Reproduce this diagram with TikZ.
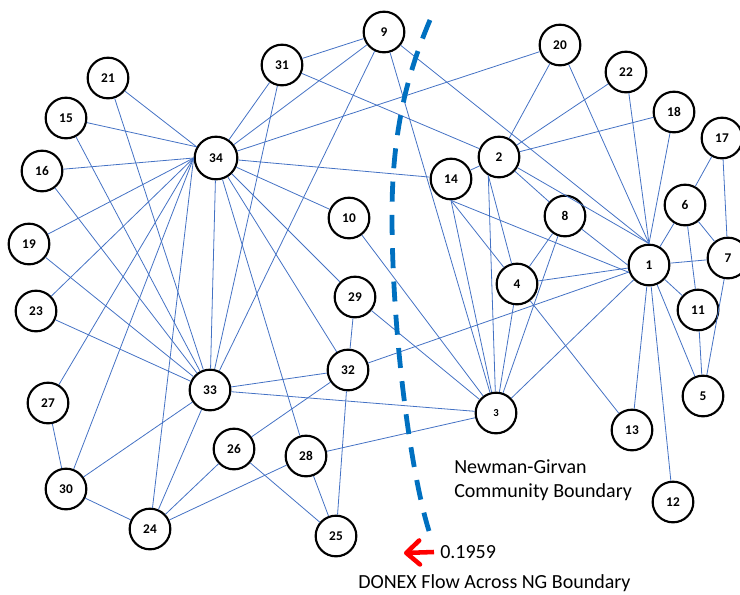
\documentclass[tikz,border=0pt]{standalone}
\usepackage{fontspec}
\setmainfont{Carlito}
\usepackage{tikz}
\usetikzlibrary{arrows.meta}

\definecolor{edgeblue}{RGB}{68,114,196}
\definecolor{ngblue}{RGB}{0,112,192}
\definecolor{flowred}{RGB}{255,0,0}

\tikzset{
  club/.style={circle, draw=black, line width=1.6pt, fill=white, minimum size=30.5pt, inner sep=0pt, font=\fontsize{10}{12}\selectfont\bfseries},
  tie/.style={draw=edgeblue, line width=0.6pt},
  lbl/.style={anchor=west, inner sep=0.75pt, font=\fontsize{15}{18}\selectfont}
}

\begin{document}
\begin{tikzpicture}[x=0.75pt,y=0.75pt,yscale=-1,xscale=1]
\useasboundingbox (0,0) rectangle (740,594);

%Members
\node [club] (n1) at (649,265) {1};
\node [club] (n2) at (499,157) {2};
\node [club, font=\fontsize{8}{10}\selectfont\bfseries] (n3) at (496,413) {3};
\node [club] (n4) at (517,284) {4};
\node [club] (n5) at (703,396) {5};
\node [club] (n6) at (685,205) {6};
\node [club] (n7) at (728,258) {7};
\node [club] (n8) at (565,216) {8};
\node [club] (n9) at (384,32) {9};
\node [club] (n10) at (349,218) {10};
\node [club] (n11) at (698,310) {11};
\node [club] (n12) at (673,502) {12};
\node [club] (n13) at (632,430) {13};
\node [club] (n14) at (451,179) {14};
\node [club] (n15) at (66,118) {15};
\node [club] (n16) at (42,171) {16};
\node [club] (n17) at (722,138) {17};
\node [club] (n18) at (674,112) {18};
\node [club] (n19) at (29,244) {19};
\node [club] (n20) at (560,45) {20};
\node [club] (n21) at (108,78) {21};
\node [club] (n22) at (626,72) {22};
\node [club] (n23) at (36,311) {23};
\node [club] (n24) at (150,529) {24};
\node [club] (n25) at (336,536) {25};
\node [club] (n26) at (234,449) {26};
\node [club] (n27) at (48,403) {27};
\node [club] (n28) at (306,456) {28};
\node [club] (n29) at (355,297) {29};
\node [club] (n30) at (66,489) {30};
\node [club] (n31) at (282,65) {31};
\node [club] (n32) at (348,370) {32};
\node [club] (n33) at (210,390) {33};
\node [club, minimum size=32pt] (n34) at (216,158) {34};

%Straight Lines (ties of member 1)
\draw [tie] (n2) -- (n1.north);  \draw [tie] (n1) -- (n3);  \draw [tie] (n1) -- (n4);
\draw [tie] (n1) -- (n5);  \draw [tie] (n1) -- (n6);  \draw [tie] (n1) -- (n7);
\draw [tie] (n8) -- (n1.west);  \draw [tie] (n9) -- (n1.north);  \draw [tie] (n1) -- (n11);
\draw [tie] (n1) -- (n12); \draw [tie] (n1) -- (n13); \draw [tie] (n14.south) -- (n1.200);
\draw [tie] (n18) -- (n1.north); \draw [tie] (n20) -- (n1.north); \draw [tie] (n22) -- (n1.north);
\draw [tie] (n1) -- (n32);
%Straight Lines (ties of member 2)
\draw [tie] (n2.240) -- (n3);  \draw [tie] (n2.240) -- (n4);  \draw [tie] (n2) -- (n8);
\draw [tie] (n2) -- (n14); \draw [tie] (n2) -- (n18); \draw [tie] (n2) -- (n20);
\draw [tie] (n2) -- (n22); \draw [tie] (n2) -- (n31);
%Straight Lines (ties of member 3)
\draw [tie] (n3) -- (n4);  \draw [tie] (n3) -- (n8);  \draw [tie] (n3) -- (n9);
\draw [tie] (n3) -- (n10); \draw [tie] (n3) -- (n14.south); \draw [tie] (n3) -- (n28);
\draw [tie] (n3) -- (n29); \draw [tie] (n3) -- (n33);
%Straight Lines (ties of members 4 - 9)
\draw [tie] (n4) -- (n8);  \draw [tie] (n4) -- (n13); \draw [tie] (n4) -- (n14.south);
\draw [tie] (n5) -- (n7);  \draw [tie] (n5) -- (n11);
\draw [tie] (n6) -- (n7);  \draw [tie] (n6) -- (n11); \draw [tie] (n6) -- (n17);
\draw [tie] (n7) -- (n17);
\draw [tie] (n9) -- (n31); \draw [tie] (n9) -- (n33); \draw [tie] (n9) -- (n34);
%Straight Lines (ties of members 10 - 23)
\draw [tie] (n10) -- (n34); \draw [tie] (n14) -- (n34);
\draw [tie] (n15) -- (n33); \draw [tie] (n15) -- (n34.150);
\draw [tie] (n16) -- (n33); \draw [tie] (n16) -- (n34.west);
\draw [tie] (n19) -- (n33); \draw [tie] (n19) -- (n34.west);
\draw [tie] (n20) -- (n34);
\draw [tie] (n21) -- (n33); \draw [tie] (n21) -- (n34.150);
\draw [tie] (n23) -- (n33); \draw [tie] (n23) -- (n34.west);
%Straight Lines (ties of members 24 - 33)
\draw [tie] (n24) -- (n26); \draw [tie] (n24) -- (n28); \draw [tie] (n24) -- (n30);
\draw [tie] (n24) -- (n33); \draw [tie] (n24) -- (n34.west);
\draw [tie] (n25) -- (n26); \draw [tie] (n25) -- (n28); \draw [tie] (n25) -- (n32);
\draw [tie] (n26) -- (n32);
\draw [tie] (n27) -- (n30); \draw [tie] (n27) -- (n34.west);
\draw [tie] (n28) -- (n34);
\draw [tie] (n29) -- (n32); \draw [tie] (n29) -- (n34);
\draw [tie] (n30) -- (n33); \draw [tie] (n30) -- (n34.west);
\draw [tie] (n31) -- (n33); \draw [tie] (n31) -- (n34);
\draw [tie] (n32) -- (n33); \draw [tie] (n32) -- (n34);
\draw [tie] (n33) -- (n34);

%Curve Lines (community boundary)
\coordinate (ngtop) at (430,20);
\coordinate (ngend) at (429,531);
\draw [ngblue, line width=3.6pt, dash pattern=on 15pt off 10pt] (ngtop) .. controls (408,72) and (392,130) .. (392,215) .. controls (392,330) and (410,470) .. (ngend);

% Text Node
\node [lbl] (ngtext) at (453,467) {Newman-Girvan};
\node [lbl] (ngtext2) at (453,492) {Community Boundary};
% Text Node
\node [lbl] (flowval) at (439,552) {0.1959};
\node [lbl] (flowtext) at (357,583) {DONEX Flow Across NG Boundary};
%Straight Lines (flow arrow)
\coordinate (flowtip) at (404,553);
\draw [flowred, line width=3.4pt, -{Straight Barb[length=10pt,width=18pt,round]}] (flowval.west) ++(-5,0) -- (flowtip);

\end{tikzpicture}
\end{document}
